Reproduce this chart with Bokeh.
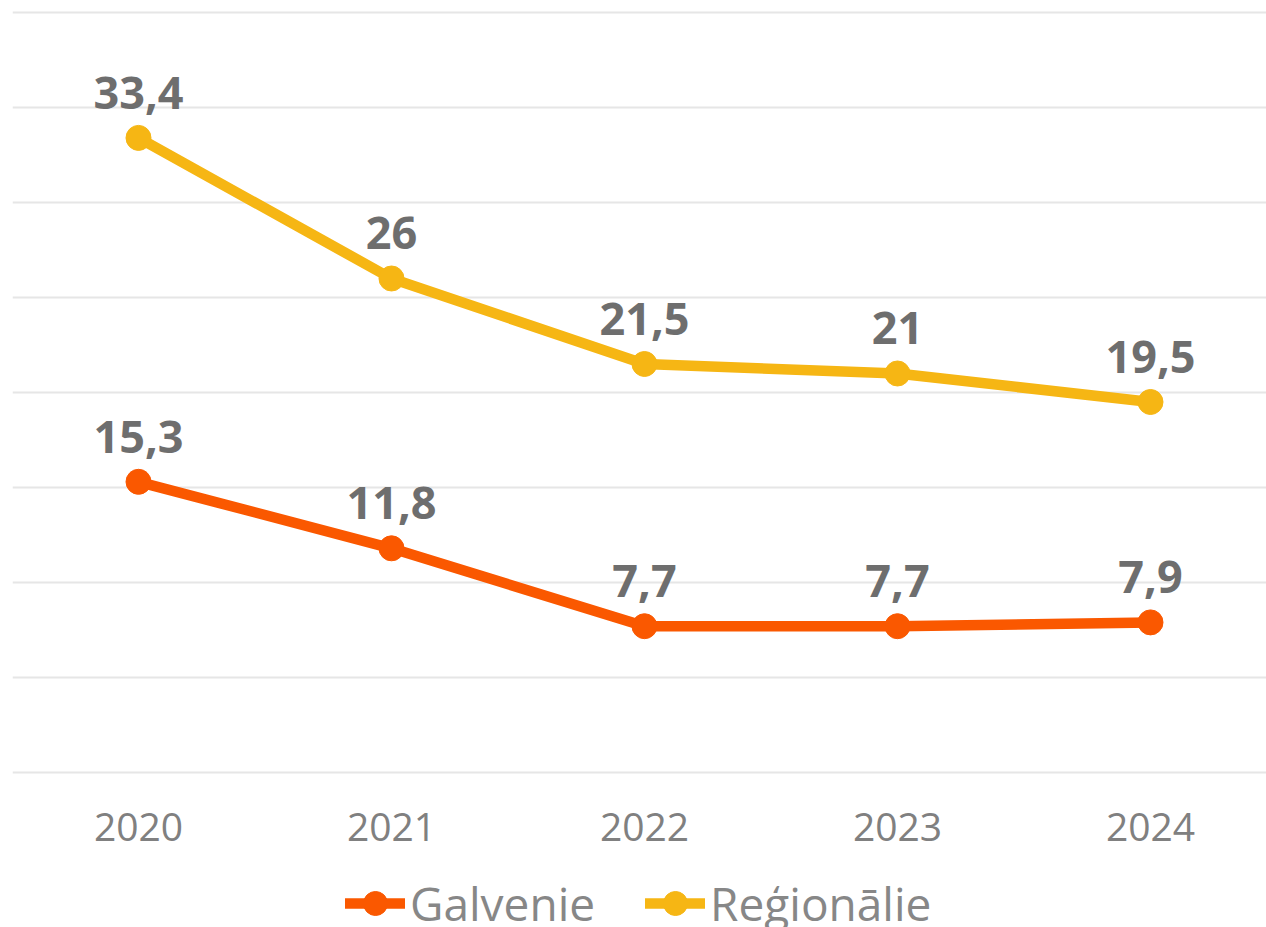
from bokeh.plotting import figure
from bokeh.models import (FixedTicker, Grid, Legend, LegendItem, Range1d,
                          ColumnDataSource)
from bokeh.core.properties import value
from bokeh.embed import file_html
from bokeh.resources import INLINE

years = ["2020", "2021", "2022", "2023", "2024"]
galvenie = [15.3, 11.8, 7.7, 7.7, 7.9]
regionalie = [33.4, 26, 21.5, 21, 19.5]
series_names = ["Galvenie", "Reģionālie"]
y_ticks = [0, 5, 10, 15, 20, 25, 30, 35, 40]

ORANGE = "#FA5800"
YELLOW = "#F6B614"
LABEL_GRAY = "#6E6E6E"
TICK_GRAY = "#808080"
FONT = "Open Sans"

idx = list(range(len(years)))


def fmt(v):
    return f"{v:g}".replace(".", ",")


p = figure(width=1266, height=927, output_backend="svg", toolbar_location=None,
           x_range=Range1d(-0.498, 4.4585), y_range=Range1d(-8.158, 40.6316),
           y_axis_location=None, min_border_left=12, min_border_right=0,
           min_border_top=0, min_border_bottom=0)
p.outline_line_color = None
p.background_fill_color = "white"
p.border_fill_color = "white"
p.xgrid.visible = False
p.ygrid.visible = False
p.add_layout(Grid(dimension=1, ticker=FixedTicker(ticks=y_ticks),
                  grid_line_color="#E6E6E6", grid_line_width=2))

ax = p.xaxis[0]
ax.fixed_location = -0.105
ax.ticker = FixedTicker(ticks=idx)
ax.major_label_overrides = {i: y for i, y in zip(idx, years)}
ax.axis_line_color = None
ax.major_tick_line_color = None
ax.minor_tick_line_color = None
ax.major_label_text_font = FONT
ax.major_label_text_font_size = "39px"
ax.major_label_text_color = TICK_GRAY
ax.major_label_standoff = 33

items = []
for name, vals, col in [(series_names[0], galvenie, ORANGE),
                        (series_names[1], regionalie, YELLOW)]:
    src = ColumnDataSource(dict(x=idx, y=vals, lab=[fmt(v) for v in vals]))
    l = p.line("x", "y", source=src, line_color=col, line_width=10.5,
               line_join="round", line_cap="round")
    s = p.scatter("x", "y", source=src, size=25, fill_color=col,
                  line_color=col)
    p.text("x", "y", text="lab", source=src, text_font=value(FONT),
           text_font_style="bold", text_font_size="45px",
           text_color=LABEL_GRAY, text_align="center",
           text_baseline="alphabetic", y_offset=-45)
    items.append(LegendItem(label=name, renderers=[l, s]))

legend = Legend(items=items, orientation="horizontal", location=(333, -8),
                glyph_width=60, glyph_height=64, label_standoff=5,
                spacing=50, padding=0, margin=0, border_line_color=None,
                background_fill_alpha=0,
                label_text_font=FONT, label_text_font_size="46px",
                label_text_color="#878787")
p.add_layout(legend)

open("out.html", "w").write(file_html(p, INLINE))
